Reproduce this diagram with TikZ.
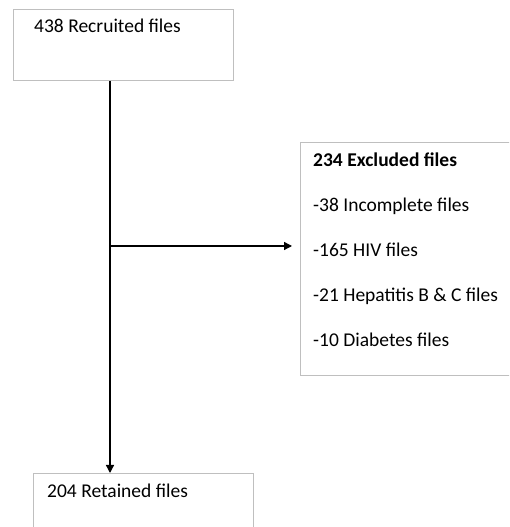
\documentclass[tikz,border=0pt]{standalone}
\usepackage{fontspec}
\setmainfont{Carlito}
\usetikzlibrary{arrows.meta}
\definecolor{boxgray}{HTML}{BFBFBF}
\tikzset{
  box/.style={draw=boxgray, line width=0.8pt, anchor=north west, inner sep=0pt},
  entry/.style={anchor=base west, inner sep=0pt, font=\fontsize{19.5}{22}\selectfont},
  flow/.style={line width=1.3pt, -{Triangle[length=8pt, width=8pt]}}
}
\begin{document}
\begin{tikzpicture}[x=1pt, y=1pt]
\clip (0,0) rectangle (509,527);
% boxes
\node[box, minimum width=220pt, minimum height=71pt] (recruited) at (13,518) {};
\node[box, minimum width=220pt, minimum height=233pt] (excluded) at (300,385) {};
\node[box, minimum width=220pt, minimum height=71pt] (retained) at (33,54) {};
% texts
\node[entry] (recruitedtext) at (34,494) {438 Recruited files};
\node[entry] (retainedtext) at (47,29) {204 Retained files};
\node[entry, font=\fontsize{19.5}{22}\selectfont\bfseries] (head) at (313,360) {234 Excluded files};
\foreach \t [count=\i] in {-38 Incomplete files, -165 HIV files, -21 Hepatitis B \& C files, -10 Diabetes files}
  \node[entry] (item\i) at (313,360-45*\i) {\t};
% arrows
\coordinate (split) at ([xshift=97pt]recruited.south west |- 0,281);
\draw[flow] ([xshift=97pt]recruited.south west) -- ([xshift=77pt]retained.north west);
\draw[flow] (split) -- ([xshift=-8pt]excluded.west |- split);
\end{tikzpicture}
\end{document}
